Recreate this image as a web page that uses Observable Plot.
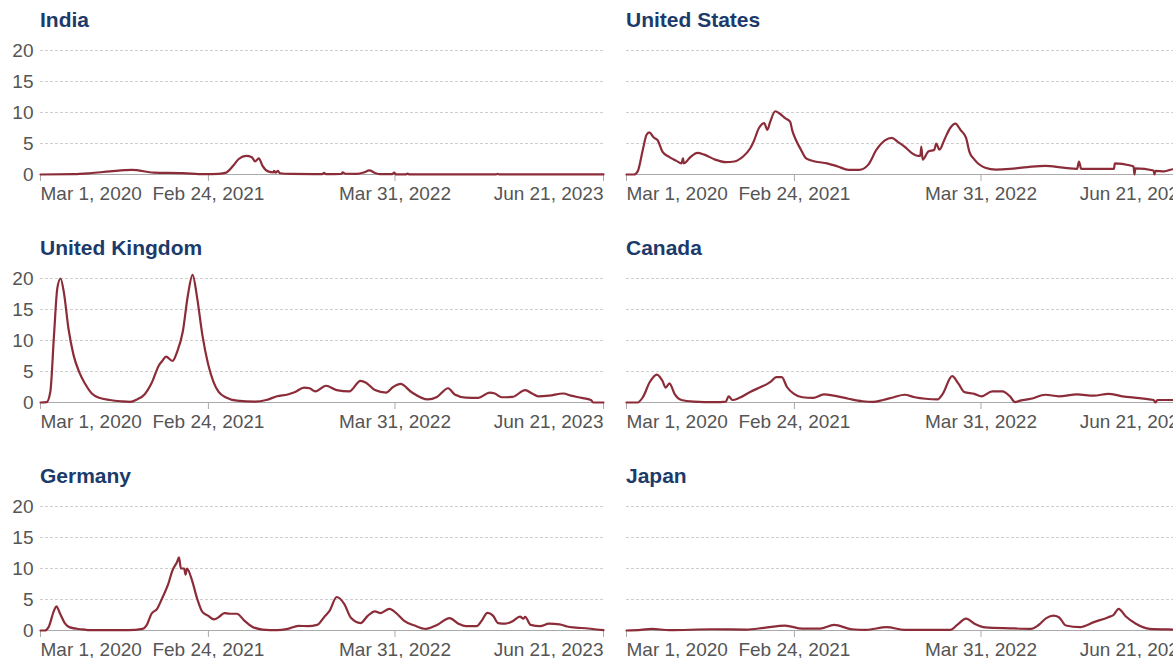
<!DOCTYPE html>
<html>
<head>
<meta charset="utf-8">
<script src="https://cdn.jsdelivr.net/npm/d3@7"></script>
<script src="https://cdn.jsdelivr.net/npm/@observablehq/plot@0.6"></script>
<style>
  html, body { margin: 0; padding: 0; background: #fff; overflow: hidden; width: 1173px; height: 658px; }
  .panel { position: absolute; height: 228px; }
  .title { position: absolute; font-family: "Liberation Sans", Arial, sans-serif; font-weight: bold; font-size: 21px; line-height: 26px; color: #1c3b6a; white-space: nowrap; }
  svg.chart { position: absolute; max-width: none; display: block; }
</style>
</head>
<body>
<div id="root"></div>
<script>
// ---- data (deaths per million, 7-day average) ----
const countries = ["India", "United States", "United Kingdom", "Canada", "Germany", "Japan"];
const xTickDates = ["2020-03-01", "2021-02-24", "2022-03-31", "2023-06-21"];
const yTickValues = [0, 5, 10, 15, 20];

const india = [["2020-03-01",0],["2020-05-11",0.05],["2020-06-15",0.2],["2020-07-28",0.5],["2020-09-13",0.75],["2020-10-30",0.3],["2020-12-31",0.22],["2021-02-15",0.05],["2021-03-18",0.1],["2021-04-03",0.3],["2021-04-18",1.4],["2021-04-30",2.5],["2021-05-16",3.0],["2021-05-28",2.8],["2021-06-04",2.1],["2021-06-12",2.6],["2021-06-20",1.4],["2021-07-02",0.5],["2021-07-13",0.35],["2021-07-15",0.6],["2021-07-18",0.3],["2021-07-23",0.6],["2021-07-27",0.2],["2021-08-21",0.1],["2021-10-26",0.06],["2021-10-30",0.25],["2021-11-03",0.06],["2021-12-06",0.1],["2021-12-09",0.35],["2021-12-14",0.12],["2022-01-08",0.1],["2022-01-24",0.35],["2022-02-04",0.65],["2022-02-16",0.25],["2022-02-28",0.05],["2022-03-25",0.05],["2022-03-29",0.3],["2022-04-02",0.02],["2022-04-23",0.02],["2022-04-27",0.15],["2022-05-01",0.02],["2022-11-03",0.02],["2022-11-06",0.12],["2022-11-09",0.02],["2023-06-21",0.02]];

const unitedStates = [["2020-03-01",0],["2020-03-17",0],["2020-03-25",0.5],["2020-04-05",4.0],["2020-04-13",6.4],["2020-04-19",6.8],["2020-04-28",6.0],["2020-05-07",5.5],["2020-05-17",3.7],["2020-06-01",2.8],["2020-06-16",2.2],["2020-06-27",1.8],["2020-06-30",2.6],["2020-07-02",1.8],["2020-07-16",2.8],["2020-07-31",3.5],["2020-08-15",3.2],["2020-09-07",2.4],["2020-09-30",2.0],["2020-10-18",2.1],["2020-11-06",2.9],["2020-11-21",4.2],["2020-11-28",5.2],["2020-12-10",7.5],["2020-12-21",8.3],["2020-12-28",7.2],["2021-01-03",8.5],["2021-01-14",10.2],["2021-01-24",9.8],["2021-02-04",9.1],["2021-02-15",8.5],["2021-02-19",7.2],["2021-02-27",5.6],["2021-03-10",4.0],["2021-03-21",2.6],["2021-04-09",2.1],["2021-05-05",1.8],["2021-05-28",1.3],["2021-06-20",0.75],["2021-07-13",0.75],["2021-08-01",1.55],["2021-08-19",4.0],["2021-09-06",5.5],["2021-09-21",5.9],["2021-10-03",5.3],["2021-10-18",4.5],["2021-11-02",3.5],["2021-11-17",3.0],["2021-11-21",3.0],["2021-11-23",4.5],["2021-11-26",2.4],["2021-12-08",3.7],["2021-12-21",4.0],["2021-12-25",5.0],["2022-01-01",4.0],["2022-01-12",5.7],["2022-01-24",7.5],["2022-02-04",8.2],["2022-02-15",7.2],["2022-02-27",5.9],["2022-03-06",3.7],["2022-03-17",2.4],["2022-04-09",1.1],["2022-05-02",0.8],["2022-06-01",0.9],["2022-07-09",1.2],["2022-08-16",1.4],["2022-09-23",1.1],["2022-10-23",0.9],["2022-10-27",2.1],["2022-11-01",0.9],["2022-12-06",0.9],["2023-01-10",0.9],["2023-01-12",1.8],["2023-02-12",1.5],["2023-02-21",1.3],["2023-02-23",0],["2023-02-25",1.0],["2023-04-05",0.65],["2023-04-07",0],["2023-04-09",0.6],["2023-04-28",0.5],["2023-05-17",0.85],["2023-06-21",0.8]];

const unitedKingdom = [["2020-03-01",0],["2020-03-14",0.05],["2020-03-22",1.7],["2020-03-30",10.9],["2020-04-06",18.4],["2020-04-13",20.0],["2020-04-20",17.8],["2020-04-30",11.9],["2020-05-11",7.6],["2020-05-23",4.9],["2020-06-04",3.1],["2020-06-19",1.45],["2020-07-05",0.75],["2020-07-28",0.4],["2020-08-20",0.2],["2020-09-09",0.1],["2020-09-24",0.5],["2020-10-10",1.3],["2020-10-25",3.1],["2020-11-10",6.0],["2020-11-18",6.8],["2020-11-25",7.4],["2020-12-09",6.7],["2020-12-19",8.2],["2020-12-31",11.4],["2021-01-11",17.3],["2021-01-21",20.6],["2021-01-31",16.8],["2021-02-11",10.9],["2021-02-23",6.3],["2021-03-07",3.3],["2021-03-18",1.7],["2021-04-03",0.8],["2021-04-26",0.3],["2021-06-04",0.15],["2021-06-28",0.4],["2021-07-21",1.0],["2021-08-13",1.3],["2021-08-29",1.7],["2021-09-17",2.4],["2021-09-29",2.3],["2021-10-11",1.8],["2021-11-03",2.7],["2021-11-26",2.0],["2021-12-23",1.8],["2022-01-16",3.5],["2022-01-28",3.2],["2022-02-16",2.0],["2022-03-12",1.6],["2022-03-27",2.5],["2022-04-12",3.0],["2022-05-05",1.7],["2022-06-09",0.5],["2022-06-29",0.9],["2022-07-23",2.3],["2022-08-06",1.3],["2022-08-30",0.8],["2022-09-26",0.75],["2022-10-20",1.6],["2022-10-31",1.45],["2022-11-15",0.85],["2022-12-08",0.9],["2023-01-04",2.0],["2023-01-20",1.4],["2023-02-01",1.0],["2023-02-24",1.1],["2023-03-27",1.45],["2023-04-12",1.1],["2023-05-05",0.75],["2023-05-25",0.4],["2023-05-30",0],["2023-06-21",0]];

const canada = [["2020-03-01",0],["2020-03-25",0],["2020-04-05",0.85],["2020-04-20",3.3],["2020-05-05",4.5],["2020-05-17",3.5],["2020-05-24",2.4],["2020-06-01",3.1],["2020-06-12",1.4],["2020-06-27",0.4],["2020-07-23",0.15],["2020-09-07",0.05],["2020-09-30",0.15],["2020-10-06",1.0],["2020-10-14",0.4],["2020-10-29",0.75],["2020-11-21",1.7],["2020-12-14",2.5],["2020-12-28",3.0],["2021-01-05",3.4],["2021-01-16",4.1],["2021-01-28",4.1],["2021-02-08",2.5],["2021-02-23",1.4],["2021-03-13",0.85],["2021-04-05",0.75],["2021-04-28",1.3],["2021-05-20",1.1],["2021-06-20",0.6],["2021-07-20",0.2],["2021-08-11",0.1],["2021-09-02",0.4],["2021-09-25",0.85],["2021-10-18",1.25],["2021-11-09",0.85],["2021-12-02",0.6],["2021-12-28",0.5],["2022-01-08",1.4],["2022-01-28",4.25],["2022-02-11",3.0],["2022-02-23",1.7],["2022-03-17",1.4],["2022-04-01",1.0],["2022-04-24",1.8],["2022-05-16",1.8],["2022-06-01",1.0],["2022-06-12",0.05],["2022-06-23",0.3],["2022-07-16",0.6],["2022-08-16",1.25],["2022-09-14",1.0],["2022-10-23",1.3],["2022-11-28",1.1],["2022-12-29",1.4],["2023-01-28",1.0],["2023-03-06",0.7],["2023-04-05",0.4],["2023-04-09",0.0],["2023-04-13",0.4],["2023-05-17",0.4],["2023-06-21",0.4]];

const germany = [["2020-03-01",0],["2020-03-10",0],["2020-03-18",0.5],["2020-03-30",3.2],["2020-04-04",3.9],["2020-04-12",2.7],["2020-04-22",1.2],["2020-05-03",0.5],["2020-05-27",0.2],["2020-06-19",0.05],["2020-09-05",0.05],["2020-10-06",0.27],["2020-10-14",0.8],["2020-10-25",2.7],["2020-11-06",3.5],["2020-11-18",5.4],["2020-11-29",7.3],["2020-12-09",9.7],["2020-12-19",11.1],["2020-12-23",11.8],["2020-12-27",10.0],["2021-01-03",10.0],["2021-01-06",9.0],["2021-01-09",10.0],["2021-01-19",8.3],["2021-01-31",5.1],["2021-02-11",3.0],["2021-02-23",2.4],["2021-03-08",1.8],["2021-03-18",2.15],["2021-03-30",2.8],["2021-04-11",2.7],["2021-04-26",2.7],["2021-05-12",1.6],["2021-05-28",0.65],["2021-06-20",0.15],["2021-07-21",0.05],["2021-08-13",0.27],["2021-09-05",0.75],["2021-09-25",0.7],["2021-10-15",0.9],["2021-10-30",2.15],["2021-11-11",3.2],["2021-11-26",5.4],["2021-12-12",4.3],["2021-12-27",2.0],["2022-01-16",1.2],["2022-02-01",2.4],["2022-02-16",3.1],["2022-02-28",2.8],["2022-03-19",3.5],["2022-04-04",2.7],["2022-04-19",1.6],["2022-05-12",0.8],["2022-06-05",0.27],["2022-06-29",0.9],["2022-07-26",2.0],["2022-08-14",1.1],["2022-08-30",0.7],["2022-09-22",0.7],["2022-10-03",1.6],["2022-10-15",2.85],["2022-10-27",2.4],["2022-11-07",1.2],["2022-11-23",1.1],["2022-12-08",1.5],["2022-12-24",2.25],["2022-12-31",1.9],["2023-01-04",2.2],["2023-01-16",0.9],["2023-02-05",0.7],["2023-02-24",1.1],["2023-03-19",1.0],["2023-04-04",0.65],["2023-04-18",0.5],["2023-05-05",0.4],["2023-06-21",0.05]];

const japan = [["2020-03-01",0],["2020-04-01",0.1],["2020-04-24",0.27],["2020-06-01",0.05],["2020-08-30",0.2],["2020-11-13",0.15],["2020-12-21",0.43],["2021-02-04",0.8],["2021-03-13",0.3],["2021-04-20",0.3],["2021-05-20",0.9],["2021-06-27",0.2],["2021-07-27",0.1],["2021-09-10",0.55],["2021-10-18",0.1],["2022-01-24",0.1],["2022-02-08",0.9],["2022-02-27",1.9],["2022-03-17",1.1],["2022-04-09",0.5],["2022-06-01",0.35],["2022-07-16",0.27],["2022-07-31",0.8],["2022-08-18",2.0],["2022-09-02",2.4],["2022-09-14",2.15],["2022-09-29",0.8],["2022-10-29",0.55],["2022-11-28",1.35],["2022-12-29",2.15],["2023-01-09",2.5],["2023-01-20",3.5],["2023-02-04",2.3],["2023-02-26",1.1],["2023-03-28",0.27],["2023-05-17",0.15],["2023-06-21",0.1]];

const seriesList = [india, unitedStates, unitedKingdom, canada, germany, japan];

// ---- drawing ----
const root = document.getElementById("root");
const parse = d3.utcParse("%Y-%m-%d");
const fmt = d3.utcFormat("%b %-d, %Y");
const xTicks = xTickDates.map(parse);
const xDomain = [xTicks[0], xTicks[xTicks.length - 1]];
const font = '"Liberation Sans", Arial, Helvetica, sans-serif';
const textColor = "#555";
const axisColor = "#aaa";

countries.forEach((name, i) => {
  const col = i % 2, row = Math.floor(i / 2);
  const isLeft = col === 0;
  const left = isLeft ? 0 : 626;
  const top = row * 228;
  const w = isLeft ? 605 : 565;
  const data = seriesList[i].map(([d, v]) => ({date: parse(d), value: v}));

  const panel = document.createElement("div");
  panel.className = "panel";
  panel.style.left = left + "px";
  panel.style.top = top + "px";
  panel.style.width = w + "px";

  const title = document.createElement("div");
  title.className = "title";
  title.textContent = name;
  title.style.left = (isLeft ? 40 : 0) + "px";
  title.style.top = "7px";
  panel.appendChild(title);

  const axisOpts = {tickSize: 7, tickPadding: 5, stroke: axisColor, fill: textColor, tickFormat: fmt, label: null};
  const chart = Plot.plot({
    width: w,
    height: 168,
    marginLeft: isLeft ? 40 : 0,
    marginRight: 2,
    marginTop: 14,
    marginBottom: 30,
    style: {fontFamily: font, fontSize: "19px", color: textColor, background: "transparent", overflow: "visible"},
    x: {type: "utc", domain: xDomain, axis: null, label: null},
    y: {domain: [0, 20], axis: null, label: null},
    marks: [
      Plot.gridY(yTickValues.filter(v => v > 0), {stroke: "#cfcfcf", strokeOpacity: 1, strokeDasharray: "3,2"}),
      isLeft ? Plot.axisY(yTickValues, {tickSize: 0, tickPadding: 7, fill: textColor, label: null}) : null,
      Plot.ruleY([0], {stroke: axisColor, strokeWidth: 1.2}),
      Plot.axisX([xTicks[0]], {...axisOpts, textAnchor: "start"}),
      Plot.axisX(xTicks.slice(1, -1), {...axisOpts, textAnchor: "middle"}),
      Plot.axisX([xTicks[xTicks.length - 1]], {...axisOpts, textAnchor: "end"}),
      Plot.line(data, {x: "date", y: "value", stroke: "#8b2c38", strokeWidth: 2.2, curve: "monotone-x"})
    ]
  });
  chart.classList.add("chart");
  chart.style.left = "0px";
  chart.style.top = "36px";
  chart.style.maxWidth = "none";
  panel.appendChild(chart);
  root.appendChild(panel);
});
</script>
</body>
</html>
